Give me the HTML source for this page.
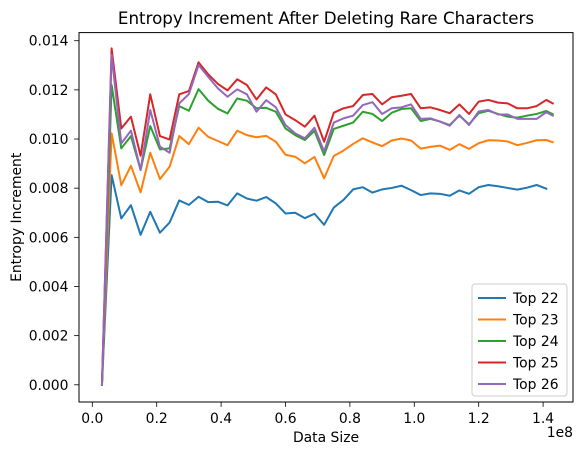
<!DOCTYPE html>
<html><head><meta charset="utf-8"><style>
body{margin:0;background:#fff;}
svg text{font-family:"DejaVu Sans","Liberation Sans",sans-serif;fill:#000;}
</style></head><body>
<svg id="chart" width="584" height="455" xmlns="http://www.w3.org/2000/svg">
<rect width="584" height="455" fill="#fff"/>
<text x="326" y="24" font-size="16.7" text-anchor="middle">Entropy Increment After Deleting Rare Characters</text>
<g id="plot"></g>
</svg>
<script>
const xValues = [0.03,0.06,0.09,0.12,0.15,0.18,0.21,0.24,0.27,0.30,0.33,0.36,0.39,0.42,0.45,0.48,0.51,0.54,0.57,0.60,0.63,0.66,0.69,0.72,0.75,0.78,0.81,0.84,0.87,0.90,0.93,0.96,0.99,1.02,1.05,1.08,1.11,1.14,1.17,1.20,1.23,1.26,1.29,1.32,1.35,1.38,1.41,1.43];
const top22 = [0,8.53,6.77,7.31,6.10,7.04,6.19,6.60,7.50,7.32,7.65,7.43,7.45,7.30,7.79,7.58,7.49,7.64,7.38,6.97,7.00,6.78,6.96,6.51,7.21,7.52,7.95,8.04,7.82,7.95,8.01,8.10,7.92,7.72,7.79,7.77,7.69,7.91,7.77,8.04,8.13,8.08,8.01,7.94,8.02,8.13,7.98];
const top23 = [0,10.23,8.12,8.91,7.83,9.44,8.37,8.87,10.12,9.79,10.46,10.09,9.92,9.75,10.34,10.16,10.07,10.13,9.89,9.36,9.28,9.01,9.27,8.40,9.31,9.53,9.80,10.03,9.86,9.71,9.94,10.02,9.94,9.61,9.68,9.73,9.56,9.79,9.60,9.83,9.95,9.94,9.90,9.75,9.84,9.95,9.96,9.87];
const top24 = [0,12.20,9.62,10.12,8.74,10.53,9.58,9.62,11.34,11.15,12.03,11.56,11.23,11.04,11.65,11.56,11.25,11.27,11.11,10.43,10.16,9.96,10.33,9.35,10.41,10.54,10.67,11.11,11.02,10.73,11.07,11.22,11.25,10.73,10.82,10.71,10.57,10.95,10.60,11.05,11.15,11.02,10.91,10.87,10.95,11.02,11.14,11.01];
const top25 = [0,13.69,10.43,10.91,9.32,11.82,10.12,9.98,11.82,11.95,13.12,12.63,12.24,11.98,12.43,12.20,11.61,12.10,11.82,11.00,10.77,10.50,10.95,9.89,11.07,11.25,11.34,11.79,11.83,11.41,11.70,11.76,11.83,11.25,11.29,11.18,11.05,11.41,11.02,11.52,11.59,11.48,11.45,11.25,11.25,11.34,11.59,11.45];
const top26 = [0,13.42,9.82,10.34,8.74,11.18,9.69,9.44,11.45,11.83,13.01,12.53,12.06,11.72,12.02,11.82,11.11,11.58,11.29,10.57,10.23,10.03,10.46,9.49,10.67,10.84,10.95,11.38,11.50,11.02,11.25,11.29,11.41,10.82,10.84,10.71,10.54,10.98,10.57,11.12,11.18,11.00,11.00,10.82,10.82,10.82,11.09,10.95];
const seriesNames = ["Top 22","Top 23","Top 24","Top 25","Top 26"];
const xTicks = [0.0,0.2,0.4,0.6,0.8,1.0,1.2,1.4];
const yTicks = [0,2,4,6,8,10,12,14];

const NS="http://www.w3.org/2000/svg";
const L=79,R=573,T=32.6,B=402;
const xMin=-0.0413,xMax=1.4929,yMin=-0.70,yMax=14.33;
const X=v=>L+(v-xMin)/(xMax-xMin)*(R-L);
const Y=v=>B-(v-yMin)/(yMax-yMin)*(B-T);
const plot=document.getElementById('plot');
function mk(tag,attrs,parent){const e=document.createElementNS(NS,tag);for(const k in attrs)e.setAttribute(k,attrs[k]);(parent||plot).appendChild(e);return e;}

xTicks.forEach(t=>{
  const g=mk('g',{});
  
  
  mk('line',{x1:X(t),x2:X(t),y1:B,y2:B+4.9,stroke:'#000','stroke-width':0.8},g);
  const tx=mk('text',{x:X(t),y:B+21,'font-size':13.9,'text-anchor':'middle'},g);
  tx.textContent=t.toFixed(1);
});
yTicks.forEach(t=>{
  const g=mk('g',{});
  
  
  mk('line',{x1:L-4.9,x2:L,y1:Y(t),y2:Y(t),stroke:'#000','stroke-width':0.8},g);
  const tx=mk('text',{x:L-10.5,y:Y(t)+5,'font-size':13.9,'text-anchor':'end'},g);
  tx.textContent=(t/1000).toFixed(3);
});

const colors=['#1f77b4','#ff7f0e','#2ca02c','#d62728','#9467bd'];
const all=[top22,top23,top24,top25,top26];
all.forEach((s,si)=>{
  const d=s.map((v,i)=>(i?'L':'M')+X(xValues[i]).toFixed(2)+','+Y(v).toFixed(2)).join(' ');
  const p=mk('path',{d:d,fill:'none',stroke:colors[si],'stroke-width':2,'stroke-linejoin':'round','stroke-linecap':'square'});
  
  
});

const frame=mk('rect',{x:L,y:T,width:R-L,height:B-T,fill:'none',stroke:'#000','stroke-width':1});



const xl=mk('text',{x:(L+R)/2,y:442,'font-size':13.9,'text-anchor':'middle'});


xl.textContent='Data Size';
const off=mk('text',{x:R,y:437,'font-size':13.9,'text-anchor':'end'});


off.textContent='1e8';
const yl=mk('text',{x:0,y:0,'font-size':13.9,'text-anchor':'middle',transform:'translate(21,'+((T+B)/2)+') rotate(-90)'});


yl.textContent='Entropy Increment';

const lg=mk('g',{});


mk('rect',{x:472,y:284,width:95,height:112,rx:3,fill:'#fff','fill-opacity':0.8,stroke:'#ccc','stroke-width':1},lg);
seriesNames.forEach((n,i)=>{
  const yy=298+i*21.5;
  const e=mk('g',{},lg);
  
  
  mk('line',{x1:478,x2:506,y1:yy,y2:yy,stroke:colors[i],'stroke-width':2},e);
  const t=mk('text',{x:513,y:yy+5,'font-size':13.9},e);
  t.textContent=n;
});
</script>
</body></html>
